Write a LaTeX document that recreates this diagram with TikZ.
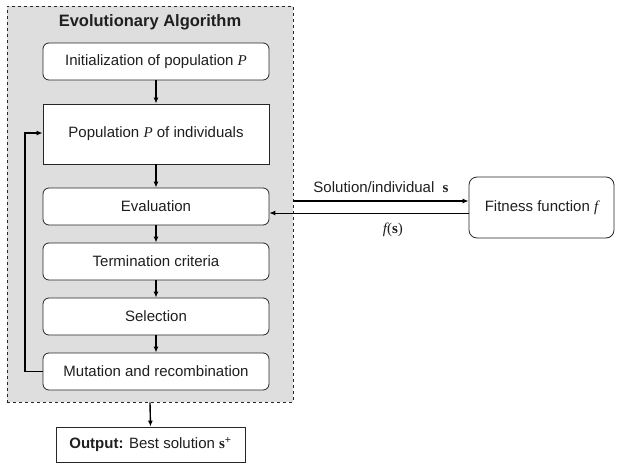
\documentclass[tikz,border=0pt]{standalone}
\usepackage{fontspec}
\setmainfont{Liberation Sans}
\newfontfamily\serifmath{Liberation Serif}
\usetikzlibrary{arrows.meta,calc}
\newcommand{\varP}{{\serifmath\itshape P}}
\newcommand{\vecs}{{\serifmath\bfseries s}}
\begin{document}
\begin{tikzpicture}[x=1pt,y=-1pt,
  every node/.style={font=\fontsize{15}{17}\selectfont, text=black!88},
  stagebox/.style={draw=black!85, line width=0.8pt, fill=white, rounded corners=6pt,
    minimum width=226pt, minimum height=37pt, inner sep=0pt},
  squarebox/.style={draw=black!85, line width=0.8pt, fill=white,
    minimum width=226pt, inner sep=0pt},
  flow/.style={line width=1.4pt, -{Latex[length=6pt,width=5pt]}},
]
\useasboundingbox (0,0) rectangle (618,463);

% enclosing algorithm frame
\node[draw=black!85, dashed, line width=0.9pt, fill=black!13,
      minimum width=286pt, minimum height=396pt, inner sep=0pt] (ea) at (150,204) {};
\node[font=\fontsize{16.5}{18}\selectfont\bfseries] (title) at (150,22) {Evolutionary Algorithm};

% stages
\node[stagebox] (init) at (156,61.5) {Initialization of population \varP};
\node[squarebox, minimum height=60pt] (pop) at (156,134) {Population \varP\ of individuals};
\node[stagebox] (eval) at (156,206.5) {Evaluation};
\node[stagebox] (term) at (156,261.5) {Termination criteria};
\node[stagebox] (sel) at (156,316.5) {Selection};
\node[stagebox] (mut) at (156,371.5) {Mutation and recombination};

% output
\node[squarebox, minimum width=189pt, minimum height=35pt] (out) at (150.5,444.5)
  {\textbf{Output:} Best solution \vecs\textsuperscript{+}};

% fitness function
\node[draw=black!85, line width=0.8pt, fill=white, rounded corners=8pt,
      minimum width=145pt, minimum height=61pt, inner sep=0pt] (fit) at (541.5,207.5)
  {Fitness function {\serifmath\itshape f}};

% main flow
\draw[flow] (init) -- (pop);
\draw[flow] (pop) -- (eval);
\draw[flow] (eval) -- (term);
\draw[flow] (term) -- (sel);
\draw[flow] (sel) -- (mut);
\draw[flow] (ea.south) -- (out.north);

% loop back to the population
\coordinate (lb) at (25,371.5);
\coordinate (lt) at (25,133);
\draw[flow] (mut.west) -- (lb) -- (lt) -- (pop.west |- lt);

% exchange with the fitness function
\coordinate (sendstart) at ($(ea.east |- fit.west)+(0,-6.5)$);
\draw[flow] (sendstart) -- (fit.west |- sendstart)
  node[midway, above=4pt] (sendlbl) {Solution/individual \ \vecs};
\coordinate (backstart) at ($(fit.west)+(0,5.5)$);
\draw[line width=0.9pt, -{Latex[length=6pt,width=5pt]}] (backstart) -- (eval.east |- backstart)
  node[pos=0.38, below=6pt] (backlbl) {\serifmath\itshape f\upshape(\bfseries s\mdseries)};
\end{tikzpicture}
\end{document}
